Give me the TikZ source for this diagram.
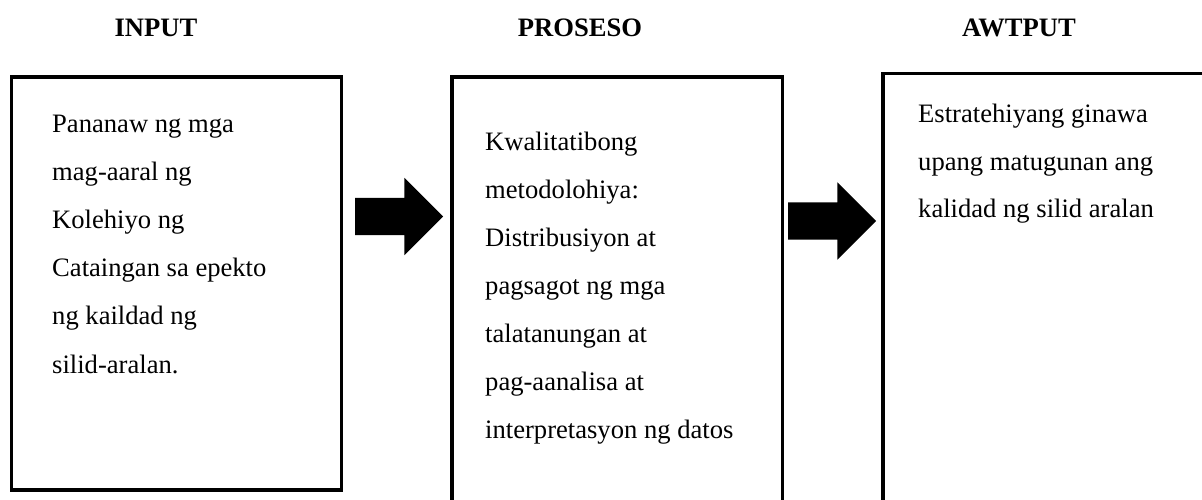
\documentclass[tikz,border=0pt]{standalone}
\usepackage{fontspec}
\setmainfont{Liberation Serif}
\usetikzlibrary{shapes.arrows}

\begin{document}
\begin{tikzpicture}[x=1pt, y=-1pt,
  header/.style={font=\fontsize{26.6}{32}\selectfont\bfseries, anchor=base, inner sep=0},
  frame/.style={draw, line width=3.5pt, anchor=north west, inner sep=0, outer sep=0},
  boxtext/.style={font=\fontsize{26.6}{32}\selectfont, anchor=base west, inner sep=0},
  bigarrow/.style={single arrow, fill=black, draw=none, inner xsep=0, inner ysep=18.5pt,
    single arrow head extend=20pt, minimum height=88pt, anchor=tail, outer sep=0}]
\useasboundingbox (0,0) rectangle (1202,500);
\clip (0,0) rectangle (1202,500);

% Headers
\node[header] (hin) at (156,37) {INPUT};
\node[header] (hpro) at (580,37) {PROSESO};
\node[header] (hout) at (1019,37) {AWTPUT};

% Boxes
\node[frame, minimum width=330pt, minimum height=413pt] (input) at (11.3,77) {};
\node[frame, minimum width=330.7pt, minimum height=460pt] (proseso) at (452,77) {};
\node[frame, minimum width=400pt, minimum height=470pt] (awtput) at (883,73.7) {};

% Texts
\foreach \txt [count=\i] in {Pananaw ng mga, mag-aaral ng, Kolehiyo ng,
  Cataingan sa epekto, ng kaildad ng, silid-aralan.}
  \node[boxtext] (in-\i) at (52,{132+48.2*(\i-1)}) {\txt};
\foreach \txt [count=\i] in {Kwalitatibong, metodolohiya:, Distribusiyon at,
  pagsagot ng mga, talatanungan at, pag-aanalisa at, interpretasyon ng datos}
  \node[boxtext] (pro-\i) at (485,{150+48*(\i-1)}) {\txt};
\foreach \txt [count=\i] in {Estratehiyang ginawa, upang matugunan ang,
  kalidad ng silid aralan}
  \node[boxtext] (out-\i) at (918,{123+47*(\i-1)}) {\txt};

% Arrows
\node[bigarrow] (arr1) at (355,216.5) {};
\node[bigarrow] (arr2) at (788,221) {};
\end{tikzpicture}
\end{document}
